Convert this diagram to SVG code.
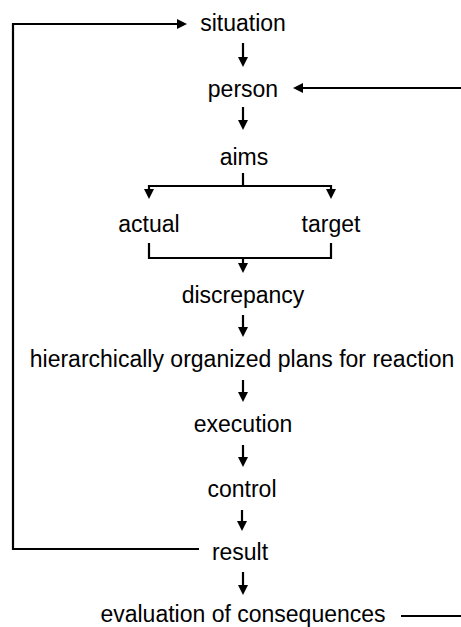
<svg xmlns="http://www.w3.org/2000/svg" width="461" height="627" viewBox="0 0 461 627">
  <style>
    .lbl { font-family: "Liberation Sans", Arial, sans-serif; font-size: 23px; fill: #000; text-anchor: middle; }
    .wire { fill: none; stroke: #000; stroke-width: 2.2; }
    .arr { marker-end: url(#head); }
  </style>
  <defs>
    <marker id="head" viewBox="0 0 10 10" refX="2" refY="5" markerWidth="10" markerHeight="10" markerUnits="userSpaceOnUse" orient="auto">
      <path d="M0,0 L10,5 L0,10 Z" fill="#000"/>
    </marker>
  </defs>

  <rect width="461" height="627" fill="#fff"/>

  <!-- connectors -->
  <g id="connectors">
    <!-- feedback loop from result back to situation -->
    <path class="wire arr" d="M199,549 H13 V24 H179"/>
    <path class="wire arr" d="M243,43 V59"/>
    <path class="wire arr" d="M461,88 H301"/>
    <path class="wire arr" d="M243,107 V122"/>
    <!-- split from aims into actual / target -->
    <path class="wire" d="M243,173 V186"/>
    <path class="wire" d="M149,186 H331"/>
    <path class="wire arr" d="M149,185 V191"/>
    <path class="wire arr" d="M331,185 V191"/>
    <!-- join of actual and target into discrepancy -->
    <path class="wire" d="M149,243 V258 H331 V243"/>
    <path class="wire arr" d="M243,257 V265"/>
    <path class="wire arr" d="M243,315 V329"/>
    <path class="wire arr" d="M243,380 V394"/>
    <path class="wire arr" d="M243,445 V459"/>
    <path class="wire arr" d="M242,510 V523"/>
    <path class="wire arr" d="M243,572 V587"/>
    <!-- outgoing line from evaluation -->
    <path class="wire" d="M401,616 H461"/>
  </g>

  <g id="situation"><text class="lbl" x="243" y="31">situation</text></g>
  <g id="person"><text class="lbl" x="243" y="97">person</text></g>
  <g id="aims"><text class="lbl" x="244" y="165">aims</text></g>
  <g id="actual"><text class="lbl" x="149" y="232">actual</text></g>
  <g id="target"><text class="lbl" x="331" y="232">target</text></g>
  <g id="discrepancy"><text class="lbl" x="243" y="303">discrepancy</text></g>
  <g id="plans"><text class="lbl" x="242" y="367">hierarchically organized plans for reaction</text></g>
  <g id="execution"><text class="lbl" x="243" y="432">execution</text></g>
  <g id="control"><text class="lbl" x="242" y="497">control</text></g>
  <g id="result"><text class="lbl" x="240" y="560">result</text></g>
  <g id="evaluation"><text class="lbl" x="243" y="622">evaluation of consequences</text></g>
</svg>
